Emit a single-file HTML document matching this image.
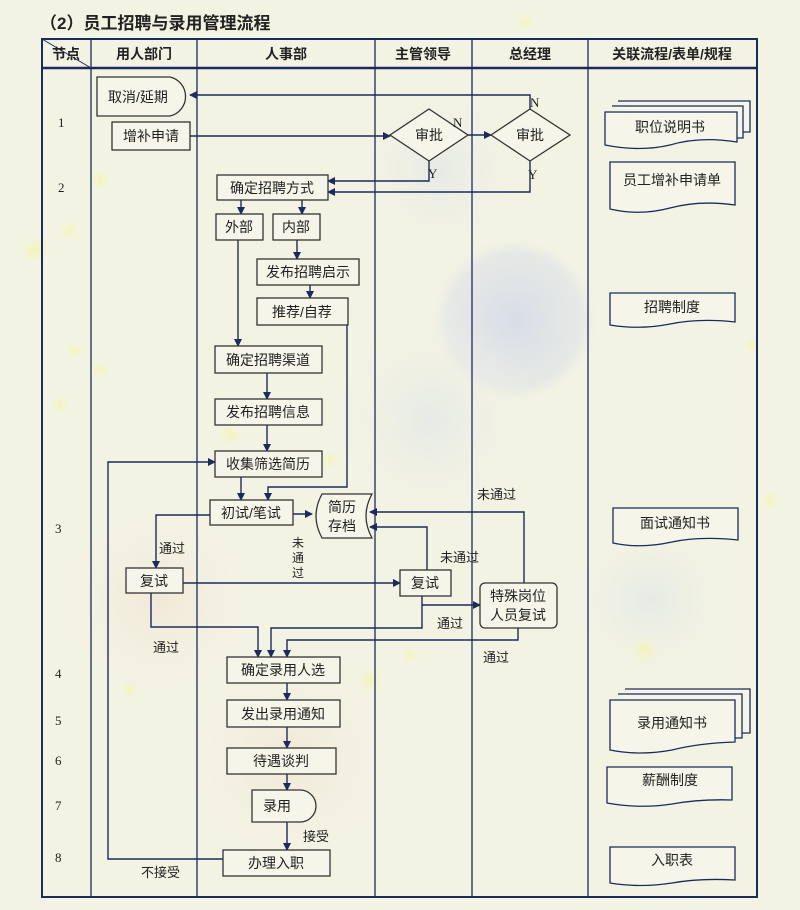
<!DOCTYPE html>
<html><head><meta charset="utf-8"><style>
html,body{margin:0;padding:0;background:#f3f3e4;}
svg{display:block;font-family:"Liberation Sans","Noto Sans CJK SC",sans-serif;}
</style></head><body>
<svg width="800" height="910" viewBox="0 0 800 910" xmlns="http://www.w3.org/2000/svg">
<defs>
<radialGradient id="bl" cx="50%" cy="50%" r="50%"><stop offset="0" stop-color="#d4dbe8" stop-opacity="0.9"/><stop offset="0.8" stop-color="#dde2e6" stop-opacity="0.6"/><stop offset="1" stop-color="#f3f3e4" stop-opacity="0"/></radialGradient>
<radialGradient id="bl2" cx="50%" cy="50%" r="50%"><stop offset="0" stop-color="#e2e8e6" stop-opacity="0.8"/><stop offset="1" stop-color="#f3f3e4" stop-opacity="0"/></radialGradient>
<radialGradient id="yl" cx="50%" cy="50%" r="50%"><stop offset="0" stop-color="#f4f4b0" stop-opacity="0.9"/><stop offset="1" stop-color="#f3f3e4" stop-opacity="0"/></radialGradient>
<radialGradient id="tan" cx="50%" cy="50%" r="50%"><stop offset="0" stop-color="#f1e7d6" stop-opacity="0.9"/><stop offset="1" stop-color="#f3f3e4" stop-opacity="0"/></radialGradient>
<marker id="a" markerWidth="8" markerHeight="8" refX="7" refY="4" orient="auto" markerUnits="userSpaceOnUse"><path d="M0,0 L8,4 L0,8 z" fill="#1c2b5c"/></marker>
</defs>
<rect width="800" height="910" fill="#f3f3e4"/>
<circle cx="440" cy="170" r="90" fill="url(#bl2)"/>
<circle cx="515" cy="320" r="85" fill="url(#bl)"/>
<circle cx="430" cy="420" r="110" fill="url(#bl2)"/>
<circle cx="160" cy="600" r="110" fill="url(#tan)"/>
<circle cx="290" cy="760" r="120" fill="url(#tan)"/>
<circle cx="650" cy="600" r="90" fill="url(#bl2)"/>
<g fill="url(#yl)">
<circle cx="35" cy="250" r="18"/><circle cx="70" cy="230" r="14"/><circle cx="100" cy="180" r="14"/>
<circle cx="525" cy="22" r="12"/><circle cx="75" cy="350" r="12"/><circle cx="100" cy="370" r="12"/>
<circle cx="230" cy="435" r="14"/><circle cx="370" cy="680" r="16"/><circle cx="410" cy="655" r="12"/>
<circle cx="645" cy="650" r="18"/><circle cx="770" cy="500" r="12"/><circle cx="752" cy="345" r="10"/>
<circle cx="130" cy="690" r="12"/><circle cx="60" cy="405" r="12"/><circle cx="330" cy="460" r="12"/>
</g>

<text x="40" y="29" font-size="17" font-weight="bold" fill="#222">（2）员工招聘与录用管理流程</text>

<g stroke="#1c2b5c" fill="none">
<rect x="42" y="39" width="715" height="858" stroke-width="2"/>
<line x1="42" y1="68" x2="757" y2="68" stroke-width="2.5"/>
<line x1="91" y1="39" x2="91" y2="897" stroke-width="1.3"/>
<line x1="197" y1="39" x2="197" y2="897" stroke-width="1.3"/>
<line x1="375" y1="39" x2="375" y2="897" stroke-width="1.3"/>
<line x1="472" y1="39" x2="472" y2="897" stroke-width="1.3"/>
<line x1="588" y1="39" x2="588" y2="897" stroke-width="1.3"/>
<line x1="42" y1="39" x2="91" y2="68" stroke-width="1"/>
</g>
<g font-size="14" font-weight="bold" fill="#222" text-anchor="middle">
<text x="66" y="59">节点</text><text x="144" y="59">用人部门</text><text x="286" y="59">人事部</text>
<text x="423" y="59">主管领导</text><text x="530" y="59">总经理</text><text x="672" y="59">关联流程/表单/规程</text>
</g>
<g font-size="13" fill="#222" font-family="Liberation Serif,serif">
<text x="58" y="127">1</text><text x="58" y="192">2</text><text x="55" y="533">3</text><text x="55" y="678">4</text>
<text x="55" y="725">5</text><text x="55" y="765">6</text><text x="55" y="810">7</text><text x="55" y="862">8</text>
</g>

<g stroke="#1c2b5c" stroke-width="1.4" fill="none">
<path d="M190,136 H390" marker-end="url(#a)"/>
<path d="M468,135 H491" marker-end="url(#a)"/>
<path d="M530,109 V95 H190" marker-end="url(#a)"/>
<path d="M429,161 V181 H328" marker-end="url(#a)"/>
<path d="M530,161 V192 H328" marker-end="url(#a)"/>
<path d="M241,200 V214" marker-end="url(#a)"/>
<path d="M302,200 V214" marker-end="url(#a)"/>
<path d="M297,240 V259" marker-end="url(#a)"/>
<path d="M310,285 V298" marker-end="url(#a)"/>
<path d="M238,240 V346" marker-end="url(#a)"/>
<path d="M267,373 V399" marker-end="url(#a)"/>
<path d="M267,425 V451" marker-end="url(#a)"/>
<path d="M241,477 V500" marker-end="url(#a)"/>
<path d="M347,325 V487 H268 V500" marker-end="url(#a)"/>
<path d="M293,514 H312" marker-end="url(#a)"/>
<path d="M210,515 H156 V568" marker-end="url(#a)"/>
<path d="M183,583 H400" marker-end="url(#a)"/>
<path d="M427,570 V527 H370" marker-end="url(#a)"/>
<path d="M524,583 V512 H370" marker-end="url(#a)"/>
<path d="M422,596 V605 H480" marker-end="url(#a)"/>
<path d="M151,593 V627 H258 V657" marker-end="url(#a)"/>
<path d="M422,605 V628 H271 V657" marker-end="url(#a)"/>
<path d="M518,628 V640 H287 V657" marker-end="url(#a)"/>
<path d="M287,683 V700" marker-end="url(#a)"/>
<path d="M287,727 V748" marker-end="url(#a)"/>
<path d="M287,774 V790" marker-end="url(#a)"/>
<path d="M287,822 V850" marker-end="url(#a)"/>
<path d="M223,859 H108 V462 H215" marker-end="url(#a)"/>
</g>

<g stroke="#333" stroke-width="1.3" fill="#f5f5ea">
<path d="M97,77 H170 A20,20 0 0 1 170,116 H97 Z"/>
<rect x="112" y="122" width="78" height="28"/>
<path d="M429,109 L468,135 L429,161 L390,135 Z"/>
<path d="M530,109 L570,135 L530,161 L491,135 Z"/>
<rect x="217" y="175" width="111" height="25"/>
<rect x="216" y="214" width="47" height="26"/>
<rect x="273" y="214" width="47" height="26"/>
<rect x="257" y="259" width="102" height="26"/>
<rect x="257" y="298" width="91" height="27"/>
<rect x="215" y="346" width="107" height="27"/>
<rect x="215" y="399" width="107" height="26"/>
<rect x="215" y="451" width="107" height="26"/>
<rect x="210" y="500" width="83" height="25"/>
<path d="M322,494 H372 Q360,516 372,538 H322 Q310,516 322,494 Z"/>
<rect x="126" y="568" width="57" height="25"/>
<rect x="400" y="570" width="51" height="26"/>
<rect x="480" y="583" width="77" height="45" rx="5"/>
<rect x="227" y="657" width="113" height="26"/>
<rect x="227" y="700" width="113" height="27"/>
<rect x="227" y="748" width="109" height="26"/>
<path d="M252,790 H300 A16,16 0 0 1 300,822 H252 Z"/>
<rect x="223" y="850" width="107" height="26"/>
</g>

<g stroke="#1c2b5c" stroke-width="1.3" fill="#f5f5ea">
<path d="M618,101 H750 V132 H742"/>
<path d="M612,106 H743 V138 H737"/>
<path d="M605,112 H737 V142 Q700,136 670,145 Q640,152 605,145 Z"/>
<path d="M610,162 H735 V205 Q700,200 670,208 Q640,216 610,209 Z"/>
<path d="M610,293 H735 V322 Q700,318 670,324 Q640,330 610,325 Z"/>
<path d="M613,508 H738 V540 Q700,536 672,542 Q640,549 613,543 Z"/>
<path d="M625,689 H750 V733 H742"/>
<path d="M618,694 H742 V738 H735"/>
<path d="M610,700 H735 V742 Q700,743 672,750 Q640,756 610,750 Z"/>
<path d="M607,767 H732 V800 Q700,799 672,804 Q640,809 607,803 Z"/>
<path d="M610,847 H735 V880 Q700,878 672,883 Q640,888 610,883 Z"/>
</g>

<g font-size="14" fill="#222" text-anchor="middle">
<text x="138" y="102">取消/延期</text>
<text x="151" y="141">增补申请</text>
<text x="429" y="140">审批</text>
<text x="530" y="140">审批</text>
<text x="272" y="193">确定招聘方式</text>
<text x="239" y="232">外部</text>
<text x="296" y="232">内部</text>
<text x="308" y="277">发布招聘启示</text>
<text x="302" y="317">推荐/自荐</text>
<text x="268" y="365">确定招聘渠道</text>
<text x="268" y="417">发布招聘信息</text>
<text x="268" y="469">收集筛选简历</text>
<text x="251" y="518">初试/笔试</text>
<text x="342" y="512">简历</text>
<text x="342" y="531">存档</text>
<text x="154" y="586">复试</text>
<text x="425" y="588">复试</text>
<text x="518" y="601">特殊岗位</text>
<text x="518" y="620">人员复试</text>
<text x="283" y="675">确定录用人选</text>
<text x="283" y="719">发出录用通知</text>
<text x="281" y="766">待遇谈判</text>
<text x="277" y="811">录用</text>
<text x="276" y="868">办理入职</text>
<text x="670" y="132">职位说明书</text>
<text x="672" y="185">员工增补申请单</text>
<text x="672" y="312">招聘制度</text>
<text x="675" y="528">面试通知书</text>
<text x="672" y="728">录用通知书</text>
<text x="670" y="785">薪酬制度</text>
<text x="672" y="865">入职表</text>
</g>
<g font-size="13" fill="#222">
<text x="453" y="127" font-family="Liberation Serif,serif">N</text>
<text x="530" y="107" font-family="Liberation Serif,serif">N</text>
<text x="428" y="178" font-family="Liberation Serif,serif">Y</text>
<text x="528" y="179" font-family="Liberation Serif,serif">Y</text>
<text x="159" y="553">通过</text>
<text x="292" y="547" font-size="12">未</text>
<text x="292" y="562" font-size="12">通</text>
<text x="292" y="577" font-size="12">过</text>
<text x="440" y="562">未通过</text>
<text x="477" y="499">未通过</text>
<text x="437" y="628">通过</text>
<text x="153" y="652">通过</text>
<text x="483" y="662">通过</text>
<text x="303" y="841">接受</text>
<text x="141" y="877">不接受</text>
</g>
</svg>
</body></html>
